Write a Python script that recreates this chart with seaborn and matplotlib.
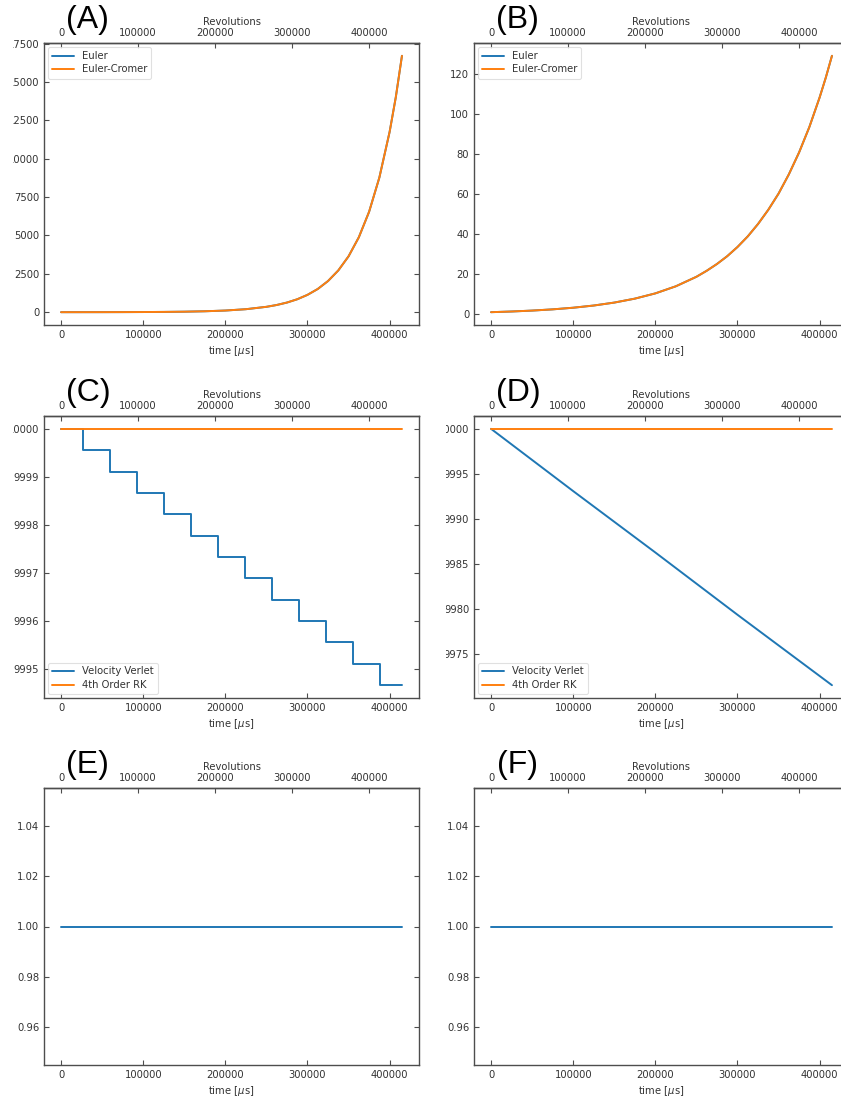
import matplotlib
matplotlib.use("Agg")
import matplotlib.pyplot as plt
import seaborn as sns
from matplotlib.transforms import Bbox, TransformedBbox

# ---- data -------------------------------------------------------------
# time samples [us] for the energy-growth curves (panels A and B)
t_growth = [0, 25000, 50000, 75000, 100000, 125000, 150000, 175000, 200000,
            225000, 250000, 262500, 275000, 287500, 300000, 312500, 325000,
            337500, 350000, 362500, 375000, 387500, 400000, 407500, 415000]

# panel A: Euler and Euler-Cromer (the two curves coincide)
euler_a = [1.0, 1.80, 3.23, 5.80, 10.4, 18.7, 33.6, 60.3, 108, 195, 350, 469,
           628, 842, 1130, 1512, 2030, 2720, 3640, 4880, 6540, 8770, 11750,
           14000, 16700]
cromer_a = euler_a

# panel B: Euler and Euler-Cromer (the two curves coincide)
euler_b = [1.0, 1.34, 1.80, 2.41, 3.23, 4.33, 5.80, 7.77, 10.4, 13.96, 18.7,
           21.7, 25.1, 29.0, 33.6, 38.9, 45.1, 52.2, 60.3, 69.9, 80.9, 93.6,
           108.4, 118.3, 129.2]
cromer_b = euler_b

# panel C: Velocity Verlet staircase vs 4th order RK
vv_step_t = [0, 26800, 59700, 92600, 125500, 158400, 191300, 224200, 257100,
             290000, 322900, 355800, 388700, 415000]
vv_step_e = [10000.00, 9999.56, 9999.11, 9998.67, 9998.22, 9997.78, 9997.33,
             9996.89, 9996.44, 9996.00, 9995.56, 9995.11, 9994.67, 9994.67]

# panel D: Velocity Verlet steady drift vs 4th order RK
vv_lin_t = [0, 100000, 200000, 300000, 415000]
vv_lin_e = [10000.0, 9993.1, 9986.3, 9979.4, 9971.6]

# 4th order RK stays flat (panels C, D)
rk_t = [0, 415000]
rk_e = [10000.0, 10000.0]

# panels E, F: conserved ratio
ratio_t = [0, 415000]
ratio_e = [1.0, 1.0]
ratio_f = [1.0, 1.0]

panel_tags = ["(A)", "(B)", "(C)", "(D)", "(E)", "(F)"]
legend_ab = ["Euler", "Euler-Cromer"]
legend_cd = ["Velocity Verlet", "4th Order RK"]
x_label = r"time [$\mu$s]"
top_label = "Revolutions"
REV_PER_US = 1.067

BLUE = "#1f77b4"
ORANGE = "#ff7f0e"

# ---- style ------------------------------------------------------------
sns.set_theme(context="paper", style="ticks")
plt.rcParams.update({
    "font.family": ["DejaVu Sans"],
    "font.size": 7.2,
    "axes.labelsize": 7.2,
    "xtick.labelsize": 7.2,
    "ytick.labelsize": 7.2,
    "legend.fontsize": 7.2,
    "axes.edgecolor": "0.3",
    "axes.linewidth": 1.0,
    "xtick.color": "0.3",
    "ytick.color": "0.3",
    "xtick.labelcolor": "0.2",
    "ytick.labelcolor": "0.2",
    "text.color": "0.2",
    "axes.labelcolor": "0.2",
    "axes.facecolor": "white",
    "figure.facecolor": "white",
})

W, H = 841, 1097
fig = plt.figure(figsize=(W / 100, H / 100), dpi=100)

col_left = [44, 474]
col_w = 375
rows = [(43, 325), (416, 698), (788, 1065)]

axes = []
for r, (top, bot) in enumerate(rows):
    for c in range(2):
        rect = [col_left[c] / W, 1 - bot / H, col_w / W, (bot - top) / H]
        axes.append(fig.add_axes(rect))

lw = 1.4


def finish(ax, tag, top_px, bot_px):
    ax.tick_params(axis="both", direction="in", top=False, right=True,
                   length=3.5, width=0.8)
    ax.set_xlabel(x_label, labelpad=3)
    ax.ticklabel_format(axis="y", useOffset=False, style="plain")
    sec = ax.secondary_xaxis("top", functions=(lambda t: t * REV_PER_US,
                                               lambda r: r / REV_PER_US))
    sec.tick_params(direction="in", length=3.5, width=0.8)
    sec.set_xlabel(top_label, labelpad=2)
    h = bot_px - top_px
    ax.text(0.117, 1 + 23 / h, tag, transform=ax.transAxes, ha="center",
            va="center", fontsize=23, family="Liberation Sans", color="black")


def add_legend(ax, loc):
    leg = ax.legend(loc=loc, frameon=True, fancybox=True, handlelength=2.2,
                    borderpad=0.4, labelspacing=0.35, handletextpad=0.8,
                    borderaxespad=0.4)
    leg.get_frame().set_edgecolor("0.85")
    leg.get_frame().set_linewidth(0.8)


# (A)
ax = axes[0]
sns.lineplot(x=t_growth, y=euler_a, ax=ax, color=BLUE, lw=lw, label=legend_ab[0])
sns.lineplot(x=t_growth, y=cromer_a, ax=ax, color=ORANGE, lw=lw, label=legend_ab[1])
add_legend(ax, "upper left")
finish(ax, panel_tags[0], *rows[0])

# (B)
ax = axes[1]
sns.lineplot(x=t_growth, y=euler_b, ax=ax, color=BLUE, lw=lw, label=legend_ab[0])
sns.lineplot(x=t_growth, y=cromer_b, ax=ax, color=ORANGE, lw=lw, label=legend_ab[1])
add_legend(ax, "upper left")
finish(ax, panel_tags[1], *rows[0])

# (C)
ax = axes[2]
sns.lineplot(x=vv_step_t, y=vv_step_e, ax=ax, color=BLUE, lw=lw,
             drawstyle="steps-post", label=legend_cd[0])
sns.lineplot(x=rk_t, y=rk_e, ax=ax, color=ORANGE, lw=lw, label=legend_cd[1])
add_legend(ax, "lower left")
finish(ax, panel_tags[2], *rows[1])

# (D)
ax = axes[3]
sns.lineplot(x=vv_lin_t, y=vv_lin_e, ax=ax, color=BLUE, lw=lw, label=legend_cd[0])
sns.lineplot(x=rk_t, y=rk_e, ax=ax, color=ORANGE, lw=lw, label=legend_cd[1])
add_legend(ax, "lower left")
finish(ax, panel_tags[3], *rows[1])

# (E)
ax = axes[4]
sns.lineplot(x=ratio_t, y=ratio_e, ax=ax, color=BLUE, lw=lw)
finish(ax, panel_tags[4], *rows[2])

# (F)
ax = axes[5]
sns.lineplot(x=ratio_t, y=ratio_f, ax=ax, color=BLUE, lw=lw)
finish(ax, panel_tags[5], *rows[2])

# the y tick labels are trimmed at a fixed left margin in each column
fig.canvas.draw()
clip_x = [13, 446]
for i, ax in enumerate(axes):
    box = TransformedBbox(Bbox.from_extents(clip_x[i % 2] / W, 0, 1, 1),
                          fig.transFigure)
    for lab in ax.get_yticklabels():
        lab.set_clip_on(True)
        lab.set_clip_box(box)

fig.savefig("out.png", dpi=100)
